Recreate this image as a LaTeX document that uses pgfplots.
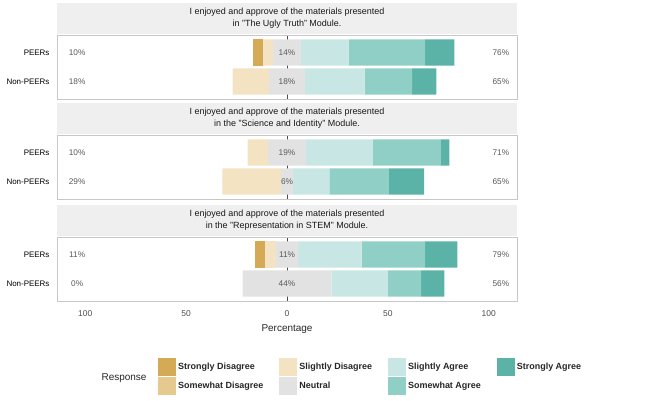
\documentclass[border=0pt]{standalone}
\usepackage{pgfplots}
\pgfplotsset{compat=1.18}
\usepackage{pgfplotstable}
\usepackage{fontspec}
\setmainfont{Liberation Sans}
\definecolor{cSD}{HTML}{D4AA56}
\definecolor{cSwD}{HTML}{E6C98E}
\definecolor{cSlD}{HTML}{F3E3C3}
\definecolor{cN}{HTML}{E2E2E2}
\definecolor{cSlA}{HTML}{C8E7E4}
\definecolor{cSwA}{HTML}{90CFC5}
\definecolor{cSA}{HTML}{5BB2A7}
\definecolor{strip}{HTML}{EFEFEF}

% The x axis runs 0..228 with the centre (0 %) at 114.
% y: 2 = PEERs, 1 = Non-PEERs; off = invisible lead-in so that Neutral is centred on 114
\pgfplotstableread{
y off SD SwD SlD N SlA SwA SA
2 97 5 0 5 14 23.5 38 14.5
1 87 0 0 18 18 29.5 23.5 12
}\dataA
\pgfplotstableread{
y off SD SwD SlD N SlA SwA SA
2 94.5 0 0 10 19 33 33.5 4.5
1 82 0 0 29 6 18 29.5 17.5
}\dataB
\pgfplotstableread{
y off SD SwD SlD N SlA SwA SA
2 97.9 5.3 0 5.3 11 31.5 31.5 16
1 92 0 0 0 44 28 16.5 11.5
}\dataC

\pgfplotsset{
 geom/.style={
  scale only axis, width=460bp, height=64bp,
  xmin=0, xmax=228, ymin=0.4, ymax=2.6,
 },
 zeroline/.style={geom,
  xtick={114}, xticklabels={}, ytick=\empty, major tick length=0pt,
  xmajorgrids, major grid style={color=black!70, line width=0.8bp},
  axis line style={draw=none},
 },
 facet/.style={geom,
  xbar stacked, bar width=0.9,
  ytick={1,2}, yticklabels={Non-PEERs,PEERs},
  xtick={14,64,114,164,214}, xticklabels={},
  major tick length=0pt,
  axis line style={black!22, line width=0.6bp},
  tick label style={font=\fontsize{8}{9}\selectfont},
  yticklabel style={text=black, xshift=-4bp},
  every axis plot/.append style={draw=none},
 },
}
\tikzset{
 lab/.style={font=\fontsize{8.3}{9}\selectfont, text=black!65},
 striptxt/.style={fill=strip, minimum width=460bp, minimum height=31bp, anchor=south,
   inner sep=0pt, align=center, font=\fontsize{9}{12}\selectfont, text=black!90},
}

\newcommand{\bars}[1]{%
  \addplot[fill=none] table[x=off,y=y]{#1};
  \addplot[fill=cSD] table[x=SD,y=y]{#1};
  \addplot[fill=cSwD] table[x=SwD,y=y]{#1};
  \addplot[fill=cSlD] table[x=SlD,y=y]{#1};
  \addplot[fill=cN] table[x=N,y=y]{#1};
  \addplot[fill=cSlA] table[x=SlA,y=y]{#1};
  \addplot[fill=cSwA] table[x=SwA,y=y]{#1};
  \addplot[fill=cSA] table[x=SA,y=y]{#1};
}
\newcommand{\labs}[6]{%
  \node[lab] at (axis cs:10,2) {#1\%};
  \node[lab] at (axis cs:114,2) {#2\%};
  \node[lab] at (axis cs:220,2) {#3\%};
  \node[lab] at (axis cs:10,1) {#4\%};
  \node[lab] at (axis cs:114,1) {#5\%};
  \node[lab] at (axis cs:220,1) {#6\%};
}

\begin{document}
\begin{tikzpicture}
\path[use as bounding box] (0,0) rectangle (651bp,-401bp);

\begin{axis}[zeroline, at={(57bp,-35bp)}, anchor=north west]
\end{axis}
\begin{axis}[facet, name=a1, at={(57bp,-35bp)}, anchor=north west,
  after end axis/.code={\labs{10}{14}{76}{18}{18}{65}}]
\bars{\dataA}
\end{axis}
\node[striptxt] at ([yshift=1bp]a1.north) {I enjoyed and approve of the materials presented\\in "The Ugly Truth" Module.};

\begin{axis}[zeroline, at={(57bp,-135bp)}, anchor=north west]
\end{axis}
\begin{axis}[facet, name=a2, at={(57bp,-135bp)}, anchor=north west,
  after end axis/.code={\labs{10}{19}{71}{29}{6}{65}}]
\bars{\dataB}
\end{axis}
\node[striptxt] at ([yshift=1bp]a2.north) {I enjoyed and approve of the materials presented\\in the "Science and Identity" Module.};

\begin{axis}[zeroline, at={(57bp,-237bp)}, anchor=north west]
\end{axis}
\begin{axis}[facet, name=a3, at={(57bp,-237bp)}, anchor=north west,
  after end axis/.code={\labs{11}{11}{79}{0}{44}{56}},
  xticklabels={100,50,0,50,100},
  xticklabel style={text=black!70, font=\fontsize{8.5}{10}\selectfont, yshift=-6bp},
  xlabel={Percentage},
  xlabel style={font=\fontsize{10}{12}\selectfont, text=black!85, yshift=-1bp},
  legend image code/.code={\fill[#1] (0bp,-9bp) rectangle (18bp,9bp);},
  legend style={draw=none, fill=none, legend columns=4,
    at={(rel axis cs:0.2196,-1.172)}, anchor=west, inner sep=0pt, row sep=1bp,
    font=\bfseries\fontsize{9}{10.5}\selectfont, text=black!85, legend cell align=left,
    /tikz/every even column/.append style={column sep=14bp}},
]
\addlegendimage{fill=cSD}\addlegendentry{Strongly Disagree}
\addlegendimage{fill=cSlD}\addlegendentry{Slightly Disagree}
\addlegendimage{fill=cSlA}\addlegendentry{Slightly Agree}
\addlegendimage{fill=cSA}\addlegendentry{Strongly Agree}
\addlegendimage{fill=cSwD}\addlegendentry{Somewhat Disagree}
\addlegendimage{fill=cN}\addlegendentry{Neutral}
\addlegendimage{fill=cSwA}\addlegendentry{Somewhat Agree}
\bars{\dataC}
\end{axis}
\node[striptxt] at ([yshift=1bp]a3.north) {I enjoyed and approve of the materials presented\\in the "Representation in STEM" Module.};

\node[anchor=east, font=\fontsize{10}{12}\selectfont, text=black!85] at (150bp,-378bp) {Response};
\end{tikzpicture}
\end{document}
